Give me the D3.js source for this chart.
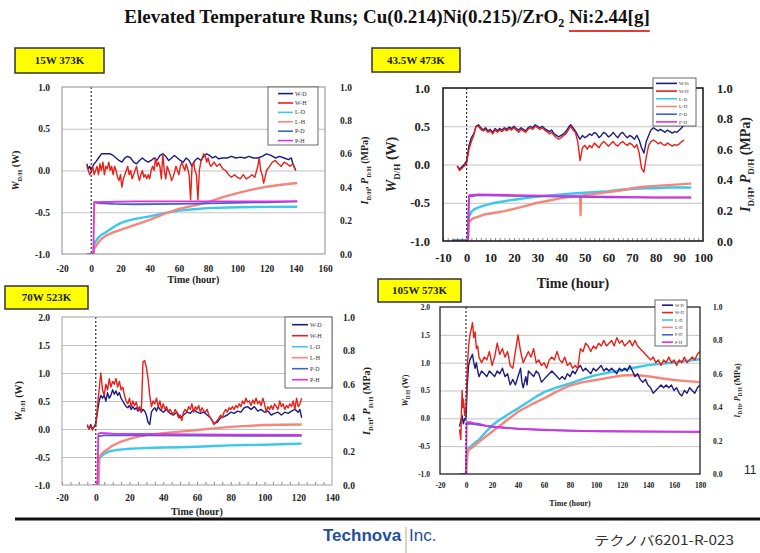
<!DOCTYPE html>
<html>
<head>
<meta charset="utf-8">
<script src="https://cdn.jsdelivr.net/npm/d3@7"></script>
<style>
body { margin: 0; background: #fff; }
svg { display: block; font-family: "Liberation Serif", "Times New Roman", serif; }
</style>
</head>
<body>
<svg id="chart" width="760" height="553"></svg>
<script>
// series shared by all four runs
const seriesNames = ["W-D", "W-H", "L-D", "L-H", "P-D", "P-H"];
const seriesColors = ["#1c1c82", "#e8201a", "#3cc8ea", "#f4867c", "#3c66cc", "#e030e0"];
const panelLabels = ["15W 373K", "43.5W 473K", "70W 523K", "105W 573K"];

// tick labels
const p1XTicks = [-20, 0, 20, 40, 60, 80, 100, 120, 140, 160];
const p2XTicks = [-10, 0, 10, 20, 30, 40, 50, 60, 70, 80, 90, 100];
const p3XTicks = [-20, 0, 20, 40, 60, 80, 100, 120, 140];
const p4XTicks = [-20, 0, 20, 40, 60, 80, 100, 120, 140, 160, 180];
const wTicksTop = [-1, -0.5, 0, 0.5, 1];
const wTicksBottom = [-1, -0.5, 0, 0.5, 1, 1.5, 2];
const mpaTicks = [0, 0.2, 0.4, 0.6, 0.8, 1];

// ---- 15W 373K : [hour, W] and [hour, MPa]
const p1WD = [[-3,0.08],[-2,0.02],[-1,0.05],[0,0.0],[1,0.05],[2,0.08],[3,0.1],[5,0.15],[7,0.2],[10,0.2],[13,0.2],[15,0.18],[17,0.15],[19,0.12],[21,0.1],[23,0.15],[25,0.17],[27,0.15],[29,0.1],[31,0.08],[33,0.12],[35,0.15],[37,0.12],[39,0.1],[41,0.12],[43,0.15],[45,0.12],[47,0.18],[49,0.2],[51,0.17],[53,0.12],[55,0.15],[57,0.18],[59,0.15],[61,0.12],[63,0.1],[65,0.15],[67,0.12],[69,0.05],[71,0.12],[73,0.15],[75,0.12],[77,0.17],[79,0.2],[81,0.18],[83,0.15],[85,0.17],[87,0.14],[90,0.15],[93,0.15],[96,0.17],[99,0.15],[102,0.16],[105,0.15],[108,0.17],[111,0.15],[114,0.15],[117,0.17],[120,0.2],[123,0.18],[126,0.15],[129,0.17],[132,0.15],[135,0.13],[137,0.15],[138,0.08],[140,0.0]];
const p1WH = [[-3,0.05],[-1,-0.05],[0,-0.02],[1,0.05],[2,-0.05],[3,0.0],[4,0.05],[5,-0.05],[6,0.08],[7,0.0],[8,0.1],[9,-0.05],[10,0.05],[11,0.02],[12,0.1],[13,0.0],[14,0.05],[15,-0.05],[16,0.05],[17,0.0],[18,-0.08],[19,-0.12],[20,-0.05],[21,-0.2],[22,-0.1],[23,-0.05],[24,0.0],[25,0.05],[26,-0.05],[27,0.0],[28,-0.1],[29,-0.05],[30,0.0],[31,0.05],[32,-0.05],[33,-0.12],[34,-0.05],[35,0.0],[36,-0.08],[37,-0.05],[38,-0.1],[39,-0.05],[40,-0.1],[41,0.0],[42,0.05],[43,0.0],[44,0.15],[45,0.05],[46,0.1],[47,0.05],[48,-0.1],[49,0.2],[50,0.0],[51,-0.1],[52,0.05],[53,0.0],[54,-0.05],[55,-0.12],[56,-0.08],[57,-0.02],[58,0.05],[59,0.0],[60,-0.05],[61,0.05],[62,0.1],[63,0.05],[64,0.0],[65,0.08],[66,0.02],[67,-0.05],[68,-0.35],[69,0.05],[70,0.1],[71,0.0],[72,-0.05],[73,-0.35],[74,0.0],[75,0.1],[76,0.15],[77,0.2],[78,0.18],[79,0.1],[80,0.15],[81,0.08],[82,0.05],[84,0.1],[86,0.05],[88,0.08],[90,0.02],[92,0.0],[94,-0.05],[96,-0.08],[98,-0.05],[100,-0.08],[102,-0.1],[104,-0.05],[106,-0.1],[108,-0.08],[110,-0.05],[112,-0.08],[114,0.05],[115,0.15],[116,0.0],[117,-0.05],[118,-0.15],[119,-0.08],[120,0.0],[122,0.05],[124,0.1],[126,0.12],[128,0.08],[130,0.05],[132,0.1],[134,0.08],[136,0.05],[138,0.08],[140,0.0]];
const p1LD = [[1.5,0],[2,0.06],[3,0.075],[5,0.1],[7,0.115],[10,0.13],[15,0.16],[20,0.185],[25,0.2],[30,0.21],[40,0.225],[50,0.245],[60,0.26],[70,0.268],[80,0.275],[100,0.28],[120,0.282],[141,0.283]];
const p1LH = [[1.5,0],[2,0.03],[3,0.045],[5,0.07],[7,0.09],[10,0.11],[15,0.13],[20,0.145],[30,0.175],[40,0.205],[50,0.24],[60,0.27],[70,0.29],[80,0.31],[90,0.34],[100,0.365],[110,0.385],[120,0.403],[130,0.415],[141,0.425]];
const p1PD = [[2,0.31],[5,0.305],[15,0.3],[30,0.298],[60,0.3],[90,0.305],[120,0.31],[141,0.315]];
const p1PH = [[-3,0],[1.5,0],[2,0.31],[30,0.315],[60,0.315],[80,0.315],[110,0.315],[141,0.315]];

// ---- 43.5W 473K
const p2WD = [[-4,-0.02],[-3,-0.06],[-2,-0.03],[-1,0.0],[0,0.05],[1,0.25],[2,0.35],[3,0.4],[4,0.5],[5,0.52],[6,0.48],[7,0.45],[8,0.48],[9,0.44],[10,0.46],[11,0.42],[12,0.47],[13,0.44],[14,0.47],[15,0.45],[16,0.48],[17,0.46],[18,0.49],[19,0.47],[20,0.5],[21,0.47],[22,0.45],[23,0.48],[24,0.46],[25,0.44],[26,0.48],[27,0.5],[28,0.48],[29,0.52],[30,0.5],[31,0.48],[32,0.5],[33,0.47],[34,0.45],[35,0.43],[36,0.45],[37,0.4],[38,0.38],[39,0.36],[40,0.38],[41,0.4],[42,0.43],[43,0.48],[44,0.52],[45,0.48],[46,0.44],[47,0.38],[48,0.33],[49,0.38],[50,0.35],[51,0.37],[52,0.4],[53,0.38],[54,0.42],[55,0.4],[56,0.35],[57,0.38],[58,0.42],[59,0.4],[60,0.36],[61,0.38],[62,0.42],[63,0.38],[64,0.35],[65,0.4],[66,0.42],[67,0.38],[68,0.35],[69,0.38],[70,0.36],[71,0.33],[72,0.38],[73,0.32],[74,0.22],[75,0.15],[76,0.3],[77,0.38],[78,0.45],[79,0.48],[80,0.46],[81,0.44],[82,0.46],[83,0.44],[84,0.42],[85,0.45],[86,0.43],[87,0.41],[88,0.43],[89,0.42],[90,0.45],[91,0.48],[92,0.52]];
const p2WH = [[-4,-0.02],[-3,-0.08],[-2,-0.05],[-1,-0.02],[0,0.02],[1,0.2],[2,0.3],[3,0.38],[4,0.5],[5,0.5],[6,0.46],[7,0.44],[8,0.46],[9,0.42],[10,0.44],[11,0.4],[12,0.45],[13,0.42],[14,0.45],[15,0.43],[16,0.46],[17,0.44],[18,0.47],[19,0.45],[20,0.48],[21,0.45],[22,0.42],[23,0.46],[24,0.44],[25,0.42],[26,0.46],[27,0.48],[28,0.46],[29,0.5],[30,0.48],[31,0.46],[32,0.48],[33,0.45],[34,0.43],[35,0.4],[36,0.42],[37,0.38],[38,0.35],[39,0.33],[40,0.35],[41,0.38],[42,0.4],[43,0.45],[44,0.5],[45,0.45],[46,0.42],[47,0.3],[48,0.05],[49,0.22],[50,0.25],[51,0.2],[52,0.25],[53,0.22],[54,0.28],[55,0.25],[56,0.22],[57,0.27],[58,0.3],[59,0.27],[60,0.24],[61,0.27],[62,0.3],[63,0.26],[64,0.24],[65,0.28],[66,0.3],[67,0.27],[68,0.25],[69,0.28],[70,0.26],[71,0.22],[72,0.26],[73,0.15],[74,-0.05],[75,-0.1],[76,0.1],[77,0.25],[78,0.3],[79,0.32],[80,0.3],[81,0.27],[82,0.29],[83,0.26],[84,0.25],[85,0.28],[86,0.26],[87,0.24],[88,0.26],[89,0.25],[90,0.27],[91,0.3],[92,0.32]];
const p2LD = [[0.5,0],[1,0.16],[2,0.19],[3,0.205],[5,0.22],[8,0.235],[12,0.25],[16,0.26],[20,0.27],[25,0.28],[30,0.29],[35,0.298],[40,0.305],[45,0.31],[50,0.315],[55,0.32],[60,0.325],[65,0.335],[70,0.34],[75,0.345],[80,0.345],[85,0.35],[90,0.35],[95,0.35]];
const p2LH = [[0.5,0],[1,0.12],[2,0.14],[3,0.15],[5,0.16],[8,0.175],[12,0.185],[16,0.195],[20,0.21],[25,0.23],[30,0.25],[35,0.265],[40,0.28],[45,0.29],[48,0.295],[48.2,0.17],[48.4,0.295],[50,0.3],[55,0.31],[60,0.32],[65,0.33],[70,0.345],[75,0.355],[80,0.36],[85,0.365],[90,0.37],[95,0.375]];
const p2PD = [[-6,0.005],[0.5,0.005],[1,0.29],[5,0.3],[20,0.295],[40,0.29],[60,0.285],[80,0.283],[95,0.283]];
const p2PH = [[-5,0],[0.5,0],[1,0.3],[5,0.305],[20,0.3],[40,0.295],[60,0.29],[80,0.285],[95,0.285]];

// ---- 70W 523K
const p3WD = [[-5,0.05],[-4,0.0],[-3,0.08],[-2,0.0],[-1,0.03],[0,0.1],[1,0.3],[2,0.5],[3,0.6],[4,0.55],[5,0.6],[6,0.5],[7,0.65],[8,0.55],[9,0.6],[10,0.7],[11,0.62],[12,0.68],[13,0.6],[14,0.65],[15,0.55],[16,0.5],[17,0.45],[18,0.4],[19,0.38],[20,0.42],[21,0.35],[22,0.4],[23,0.35],[24,0.38],[25,0.32],[26,0.36],[27,0.3],[28,0.35],[29,0.32],[30,0.25],[31,0.12],[32,0.08],[33,0.3],[34,0.35],[35,0.38],[36,0.32],[37,0.4],[38,0.35],[40,0.3],[42,0.35],[44,0.28],[46,0.25],[48,0.3],[50,0.2],[52,0.25],[54,0.3],[56,0.28],[58,0.35],[60,0.3],[62,0.28],[64,0.3],[66,0.25],[68,0.2],[70,0.1],[72,0.12],[74,0.2],[76,0.22],[78,0.25],[80,0.3],[82,0.28],[84,0.32],[86,0.3],[88,0.38],[90,0.4],[92,0.35],[94,0.4],[96,0.32],[98,0.35],[100,0.3],[102,0.32],[104,0.25],[106,0.28],[108,0.3],[110,0.25],[112,0.3],[114,0.28],[116,0.32],[118,0.35],[120,0.3],[121,0.35],[122,0.2]];
const p3WH = [[-5,0.08],[-4,0.0],[-3,0.05],[-2,-0.02],[-1,0.05],[0,0.05],[1,0.4],[2,0.7],[3,1.0],[4,0.7],[5,0.6],[6,0.8],[7,0.7],[8,0.9],[9,0.75],[10,0.85],[11,0.8],[12,0.9],[13,0.75],[14,0.85],[15,0.7],[16,0.75],[17,0.6],[18,0.5],[19,0.45],[20,0.55],[21,0.4],[22,0.5],[23,0.42],[24,0.48],[25,0.35],[26,0.4],[27,0.3],[28,1.2],[29,1.22],[30,1.1],[31,0.9],[32,0.6],[33,0.4],[34,0.5],[35,0.45],[36,0.55],[37,0.4],[38,0.5],[39,0.35],[40,0.45],[41,0.35],[42,0.4],[43,0.3],[44,0.35],[45,0.3],[46,0.25],[47,0.35],[48,0.3],[49,0.2],[50,0.25],[51,0.15],[52,0.3],[53,0.35],[54,0.3],[55,0.4],[56,0.35],[57,0.45],[58,0.3],[59,0.4],[60,0.35],[61,0.42],[62,0.3],[63,0.38],[64,0.32],[65,0.3],[66,0.35],[67,0.25],[68,0.2],[69,0.15],[70,0.08],[71,0.12],[72,0.15],[73,0.2],[74,0.25],[75,0.2],[76,0.3],[77,0.35],[78,0.3],[79,0.38],[80,0.35],[81,0.4],[82,0.35],[83,0.42],[84,0.38],[85,0.45],[86,0.4],[87,0.5],[88,0.45],[89,0.55],[90,0.48],[91,0.5],[92,0.42],[93,0.52],[94,0.45],[95,0.55],[96,0.45],[97,0.5],[98,0.42],[99,0.55],[100,0.45],[101,0.3],[102,0.4],[103,0.35],[104,0.42],[105,0.35],[106,0.45],[107,0.4],[108,0.35],[109,0.5],[110,0.4],[111,0.45],[112,0.35],[113,0.42],[114,0.38],[115,0.45],[116,0.4],[117,0.5],[118,0.35],[119,0.55],[120,0.4],[121,0.45],[122,0.55]];
const p3LD = [[1.5,0],[2,0.15],[3,0.17],[5,0.185],[8,0.2],[12,0.208],[16,0.212],[20,0.216],[25,0.218],[30,0.22],[35,0.222],[40,0.223],[50,0.225],[60,0.228],[70,0.232],[80,0.236],[90,0.238],[100,0.24],[110,0.243],[122,0.246]];
const p3LH = [[1.5,0],[2,0.16],[3,0.18],[5,0.2],[8,0.22],[10,0.235],[15,0.258],[20,0.275],[25,0.288],[30,0.297],[35,0.303],[40,0.308],[50,0.318],[60,0.327],[70,0.337],[80,0.346],[90,0.352],[100,0.357],[110,0.359],[122,0.36]];
const p3PD = [[1.5,0.29],[5,0.295],[30,0.295],[60,0.294],[90,0.293],[122,0.293]];
const p3PH = [[-2,0],[1,0],[1.5,0.305],[3,0.31],[10,0.305],[40,0.302],[80,0.3],[122,0.298]];

// ---- 105W 573K
const p4WD = [[-5,-0.15],[-4,-0.05],[-3,0.05],[-2,-0.1],[-1,0.0],[0,0.0],[1,0.6],[2,0.95],[3,1.05],[4,1.1],[5,1.15],[6,1.0],[7,0.9],[8,1.0],[9,0.85],[10,0.75],[12,0.85],[14,0.8],[16,0.75],[18,0.85],[20,0.8],[22,0.75],[24,0.85],[26,0.8],[28,0.9],[30,0.75],[32,0.8],[34,0.6],[36,0.7],[38,0.6],[40,0.75],[42,0.9],[43,0.65],[44,0.55],[46,0.75],[47,0.6],[48,0.85],[50,0.8],[52,0.75],[54,0.85],[56,0.8],[58,0.65],[60,0.7],[62,0.75],[64,0.8],[66,0.85],[68,0.8],[70,0.75],[72,0.7],[74,0.75],[76,0.7],[78,0.8],[80,0.75],[82,0.85],[84,0.8],[86,0.9],[88,0.95],[90,0.85],[92,0.9],[94,0.85],[96,0.8],[98,0.9],[100,0.85],[102,0.9],[104,0.95],[106,0.85],[108,0.9],[110,0.85],[112,0.9],[114,0.85],[116,0.8],[118,0.9],[120,0.85],[122,0.9],[124,0.85],[126,0.95],[128,0.85],[130,0.75],[132,0.8],[134,0.7],[136,0.65],[138,0.7],[140,0.6],[142,0.55],[144,0.45],[146,0.5],[148,0.55],[150,0.6],[152,0.55],[154,0.6],[156,0.55],[158,0.6],[160,0.5],[162,0.55],[164,0.45],[166,0.4],[168,0.5],[170,0.45],[172,0.55],[174,0.5],[176,0.45],[178,0.55],[180,0.6]];
const p4WH = [[-5,-0.2],[-4,-0.38],[-3.5,0.1],[-3,0.5],[-2.5,0.2],[-2,0.35],[-1,0.05],[0,0.2],[1,0.9],[2,1.3],[3,1.5],[4,1.6],[5,1.72],[6,1.45],[7,1.55],[8,1.25],[9,1.3],[10,1.1],[12,1.0],[14,1.1],[16,1.05],[18,1.2],[20,0.95],[22,1.1],[24,1.35],[26,1.15],[28,1.25],[30,1.1],[32,1.2],[34,0.95],[36,0.9],[38,1.2],[40,1.5],[42,1.2],[44,1.0],[46,1.1],[48,1.2],[50,1.1],[52,1.25],[54,1.0],[56,1.05],[58,0.95],[60,1.0],[62,0.9],[64,1.05],[66,1.1],[68,1.05],[70,1.2],[72,1.05],[74,1.0],[76,1.1],[78,0.95],[80,1.0],[82,0.9],[84,0.95],[86,0.9],[88,1.25],[90,1.2],[92,1.35],[94,1.3],[96,1.2],[98,1.3],[100,1.25],[102,1.35],[104,1.3],[106,1.4],[108,1.3],[110,1.35],[112,1.4],[114,1.3],[116,1.45],[118,1.35],[120,1.4],[122,1.3],[124,1.35],[126,1.4],[128,1.3],[130,1.4],[132,1.3],[134,1.25],[136,1.2],[138,1.15],[140,1.1],[142,1.05],[144,1.1],[146,1.0],[148,1.05],[150,0.95],[152,1.05],[154,1.0],[156,1.1],[158,1.0],[160,1.05],[162,0.95],[164,1.05],[166,1.0],[168,1.1],[170,1.0],[172,1.05],[174,1.1],[176,1.05],[178,1.15],[180,1.2]];
const p4LD = [[0,0],[1,0.13],[2,0.153],[5,0.175],[10,0.205],[15,0.25],[20,0.29],[25,0.32],[30,0.345],[35,0.37],[40,0.393],[45,0.418],[50,0.443],[55,0.468],[60,0.49],[70,0.518],[80,0.543],[90,0.57],[100,0.592],[110,0.608],[120,0.623],[130,0.638],[140,0.652],[150,0.66],[160,0.667],[170,0.678],[180,0.687]];
const p4LH = [[0,0],[1,0.12],[2,0.143],[5,0.16],[10,0.193],[15,0.223],[20,0.253],[25,0.283],[30,0.313],[35,0.343],[40,0.373],[50,0.415],[60,0.453],[70,0.495],[80,0.53],[90,0.55],[100,0.563],[110,0.577],[120,0.59],[130,0.593],[140,0.585],[150,0.573],[160,0.563],[170,0.556],[180,0.55]];
const p4PD = [[0.5,0.3],[5,0.3],[20,0.283],[40,0.27],[60,0.263],[100,0.256],[140,0.254],[180,0.252]];
const p4PH = [[-5,0],[0,0],[0.5,0.31],[3,0.31],[6,0.305],[10,0.3],[15,0.29],[20,0.285],[30,0.277],[40,0.272],[60,0.265],[80,0.26],[100,0.257],[130,0.255],[160,0.254],[180,0.253]];

const svg = d3.select("#chart");
svg.append("rect").attr("width", 760).attr("height", 553).attr("fill", "#fff");

// layout for each panel (pixel positions)
const layouts = [
  { left: 62, right: 325, top: 87, bottom: 254, xDomain: [-20, 160], xTicks: p1XTicks, yDomain: [-1, 1], yTicks: wTicksTop,
    grid: [-0.5, 0, 0.5], font: 9.5, titleFont: 10, padL: 12, padR: 15, padX: 11, xTitleY: 283, yTitleX: 19, rTitleX: 368,
    border: "#8c8c8c", borderW: 1, minor: null,
    box: [15, 48, 89, 25, 11], legend: [268, 87, 50, 58, 6, 9.4, 10, 25] },
  { left: 443, right: 703, top: 88, bottom: 241, xDomain: [-10, 100], xTicks: p2XTicks, yDomain: [-1, 1], yTicks: wTicksTop,
    grid: [-0.5, 0, 0.5], font: 12.5, titleFont: 14, padL: 13, padR: 14, padX: 12, xTitleY: 288, yTitleX: 396, rTitleX: 750,
    border: "#111", borderW: 1.5, minor: 2,
    box: [372, 48, 88, 24, 11], legend: [653, 78, 43, 48, 5, 7.7, 3, 24] },
  { left: 62, right: 332, top: 317, bottom: 485, xDomain: [-20, 140], xTicks: p3XTicks, yDomain: [-1, 2], yTicks: wTicksBottom,
    grid: [-0.5, 0, 0.5, 1, 1.5], font: 9.5, titleFont: 10, padL: 12, padR: 11, padX: 9, xTitleY: 515, yTitleX: 22, rTitleX: 370,
    border: "#a0a0a0", borderW: 1, minor: 5,
    box: [5, 286, 83, 23, 11], legend: [285, 317, 47, 71, 6, 11, 7, 23] },
  { left: 440, right: 700, top: 307, bottom: 474, xDomain: [-20, 180], xTicks: p4XTicks, yDomain: [-1, 2], yTicks: wTicksBottom,
    grid: [-0.5, 0, 0.5, 1, 1.5], font: 7.5, titleFont: 8, padL: 10, padR: 13, padX: 9, xTitleY: 506, yTitleX: 408, rTitleX: 740,
    border: "#222", borderW: 1.3, minor: null,
    box: [378, 279, 83, 23, 11], legend: [655, 300, 32, 46, 4.5, 7.4, 7, 18] }
];

const panelSeries = [
  [p1WD, p1WH, p1LD, p1LH, p1PD, p1PH],
  [p2WD, p2WH, p2LD, p2LH, p2PD, p2PH],
  [p3WD, p3WH, p3LD, p3LH, p3PD, p3PH],
  [p4WD, p4WH, p4LD, p4LH, p4PD, p4PH]
];

const fmt1 = d => d.toFixed(1);

layouts.forEach((L, i) => {
  const series = panelSeries[i];
  const w = L.right - L.left, h = L.bottom - L.top;
  const x = d3.scaleLinear().domain(L.xDomain).range([L.left, L.right]);
  const y = d3.scaleLinear().domain(L.yDomain).range([L.bottom, L.top]);
  const r = d3.scaleLinear().domain([0, 1]).range([L.bottom, L.top]);
  const g = svg.append("g");

  g.append("defs").append("clipPath").attr("id", "clip" + i)
    .append("rect").attr("x", L.left).attr("y", L.top).attr("width", w).attr("height", h);

  // horizontal grid
  g.append("g").attr("transform", `translate(${L.left},0)`)
    .call(d3.axisLeft(y).tickValues(L.grid).tickSize(-w).tickFormat(""))
    .call(a => a.select(".domain").remove())
    .selectAll("line").attr("stroke", "#b4b4b4").attr("stroke-width", 0.8);

  // minor ticks along the bottom
  if (L.minor) {
    const minorTicks = d3.range(L.xDomain[0], L.xDomain[1], L.minor);
    g.append("g").attr("transform", `translate(0,${L.bottom})`)
      .call(d3.axisBottom(x).tickValues(minorTicks).tickSize(-3).tickFormat(""))
      .call(a => a.select(".domain").remove())
      .selectAll("line").attr("stroke", "#555").attr("stroke-width", 0.7);
  }

  // axes (labels only, frame drawn separately)
  const axL = g.append("g").attr("transform", `translate(${L.left},0)`)
    .call(d3.axisLeft(y).tickValues(L.yTicks).tickSize(0).tickPadding(L.padL).tickFormat(fmt1));
  const axR = g.append("g").attr("transform", `translate(${L.right},0)`)
    .call(d3.axisRight(r).tickValues(mpaTicks).tickSize(0).tickPadding(L.padR).tickFormat(fmt1));
  const axB = g.append("g").attr("transform", `translate(0,${L.bottom})`)
    .call(d3.axisBottom(x).tickValues(L.xTicks).tickSize(0).tickPadding(L.padX).tickFormat(d => String(d)));
  [axL, axR, axB].forEach(a => {
    a.select(".domain").remove();
    a.selectAll("text").attr("font-family", "Liberation Serif").attr("font-weight", "bold")
      .attr("font-size", L.font).attr("fill", "#222");
  });

  // data lines
  const plot = g.append("g").attr("clip-path", `url(#clip${i})`);
  const order = [2, 3, 4, 5, 0, 1];
  order.forEach(k => {
    const sc = k < 2 ? y : r;
    const line = d3.line().x(d => x(d[0])).y(d => sc(d[1]));
    plot.append("path").datum(series[k]).attr("d", line)
      .attr("fill", "none").attr("stroke", seriesColors[k])
      .attr("stroke-width", k < 2 ? 1.4 : (k < 4 ? 2.4 : 1.8))
      .attr("stroke-linejoin", "round");
  });

  // start marker at t = 0
  g.append("line").attr("x1", x(0)).attr("x2", x(0)).attr("y1", L.top).attr("y2", L.bottom)
    .attr("stroke", "#333").attr("stroke-width", 1.2).attr("stroke-dasharray", "2,2");

  // frame
  g.append("rect").attr("x", L.left).attr("y", L.top).attr("width", w).attr("height", h)
    .attr("fill", "none").attr("stroke", L.border).attr("stroke-width", L.borderW);

  // axis titles
  g.append("text").attr("x", (L.left + L.right) / 2).attr("y", L.xTitleY)
    .attr("text-anchor", "middle").attr("font-weight", "bold").attr("font-size", L.titleFont)
    .attr("fill", "#222").text("Time (hour)");

  const cy = (L.top + L.bottom) / 2;
  const yt = g.append("text").attr("transform", `translate(${L.yTitleX},${cy}) rotate(-90)`)
    .attr("text-anchor", "middle").attr("font-weight", "bold").attr("font-size", L.titleFont).attr("fill", "#222");
  yt.append("tspan").attr("font-style", "italic").text("W");
  yt.append("tspan").attr("font-size", L.titleFont * 0.65).attr("dy", L.titleFont * 0.3).text("D/H");
  yt.append("tspan").attr("dy", -L.titleFont * 0.3).text(" (W)");

  const rt = g.append("text").attr("transform", `translate(${L.rTitleX},${cy}) rotate(-90)`)
    .attr("text-anchor", "middle").attr("font-weight", "bold").attr("font-size", L.titleFont).attr("fill", "#222");
  rt.append("tspan").attr("font-style", "italic").text("I");
  rt.append("tspan").attr("font-size", L.titleFont * 0.65).attr("dy", L.titleFont * 0.3).text("D/H");
  rt.append("tspan").attr("dy", -L.titleFont * 0.3).text(", ");
  rt.append("tspan").attr("font-style", "italic").text("P");
  rt.append("tspan").attr("font-size", L.titleFont * 0.65).attr("dy", L.titleFont * 0.3).text("D/H");
  rt.append("tspan").attr("dy", -L.titleFont * 0.3).text(" (MPa)");

  // legend
  const [lx, ly, lw, lh, lf, lstep, l0, l1] = L.legend;
  const lg = g.append("g");
  lg.append("rect").attr("x", lx).attr("y", ly).attr("width", lw).attr("height", lh)
    .attr("fill", "#fff").attr("stroke", "#444").attr("stroke-width", 0.8);
  seriesNames.forEach((name, k) => {
    const yy = ly + lstep * (k + 0.7);
    lg.append("line").attr("x1", lx + l0).attr("x2", lx + l1).attr("y1", yy).attr("y2", yy)
      .attr("stroke", seriesColors[k]).attr("stroke-width", 1.6);
    lg.append("text").attr("x", lx + l1 + 2).attr("y", yy).attr("dy", "0.35em")
      .attr("font-size", lf).attr("fill", "#333").text(name);
  });

  // condition label
  const [bx, by, bw, bh, bf] = L.box;
  g.append("rect").attr("x", bx).attr("y", by).attr("width", bw).attr("height", bh)
    .attr("fill", "#ffff00").attr("stroke", "#333").attr("stroke-width", 1.5);
  g.append("text").attr("x", bx + bw / 2).attr("y", by + bh / 2).attr("dy", "0.35em")
    .attr("text-anchor", "middle").attr("font-weight", "bold").attr("font-size", bf)
    .attr("fill", "#222").text(panelLabels[i]);
});

// slide title
const title = svg.append("text").attr("x", 387).attr("y", 23).attr("text-anchor", "middle")
  .attr("font-weight", "bold").attr("font-size", 19).attr("fill", "#111");
title.append("tspan").text("Elevated Temperature Runs; Cu(0.214)Ni(0.215)/ZrO");
title.append("tspan").attr("font-size", 12).attr("dy", 4).text("2");
title.append("tspan").attr("dy", -4).text(" Ni:2.44[g]");
// red underline under the Ni mass
const tn = title.node();
const nChars = tn.getNumberOfChars();
const uStart = tn.getStartPositionOfChar(nChars - 10).x;
const uEnd = tn.getEndPositionOfChar(nChars - 1).x;
svg.append("line").attr("x1", uStart).attr("x2", uEnd).attr("y1", 31).attr("y2", 31)
  .attr("stroke", "#e03a3a").attr("stroke-width", 2);

// slide footer
svg.append("line").attr("x1", 15).attr("x2", 760).attr("y1", 519).attr("y2", 519)
  .attr("stroke", "#111").attr("stroke-width", 3);
svg.append("text").attr("x", 323).attr("y", 541).attr("font-family", "Liberation Sans")
  .attr("font-weight", "bold").attr("font-size", 17).attr("fill", "#1f4f9c").text("Technova");
svg.append("line").attr("x1", 406).attr("x2", 406).attr("y1", 527).attr("y2", 553)
  .attr("stroke", "#c9a574").attr("stroke-width", 1);
svg.append("text").attr("x", 409).attr("y", 541).attr("font-family", "Liberation Sans")
  .attr("font-size", 17).attr("fill", "#1f4f9c").text("Inc.");
svg.append("text").attr("x", 594).attr("y", 545).attr("font-family", "Noto Sans CJK JP")
  .attr("font-size", 13).attr("fill", "#333").attr("textLength", 140).attr("lengthAdjust", "spacingAndGlyphs")
  .text("テクノバ6201-R-023");
svg.append("text").attr("x", 744).attr("y", 474).attr("font-family", "Liberation Sans")
  .attr("font-size", 12).attr("fill", "#222").text("11");
</script>
</body>
</html>
